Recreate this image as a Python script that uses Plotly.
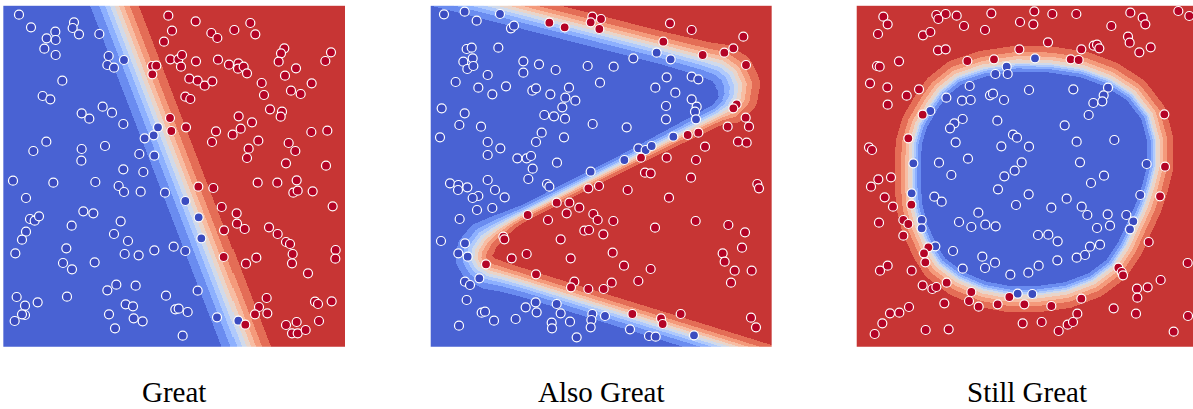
import numpy as np
import plotly.graph_objects as go

# ---------------------------------------------------------------- data
# Panel 1 ("Great"): linear boundary
p1_blue = [(47,996),(83,958),(212,973),(208,956),(227,937),(156,945),(130,925),(157,920),(123,894),(157,875),
           (288,938),(316,872),(312,845),(332,837),(177,798),(118,752),(141,742),(298,720),(326,702),(235,700),
           (258,684),(360,668),(129,615),(90,587),(235,593),(234,558),(305,602),(408,578),(453,573),(424,625),
           (451,634),(464,658),(362,860),(360,532),(420,524),(29,498),(150,492),(276,494),(346,482),(362,464),
           (412,465),(485,462),(546,437),(68,446),(240,406),(270,400),(80,383),(94,378),(107,391),(68,345),
           (56,321),(205,363),(352,376),(332,338),(374,317),(36,280),(189,295),(179,251),(206,232),(274,253),
           (364,278),(406,274),(453,289),(511,300),(546,287),(586,388),(594,325),(40,149),(103,133),(65,123),
           (65,95),(56,97),(34,77),(191,150),(312,169),(339,186),(397,183),(367,127),(389,121),(317,97),
           (391,85),(418,76),(335,55),(488,153),(516,112),(526,114),(553,104),(538,33),(583,168),(641,88),(705,78)]
p1_red = [(495,993),(577,976),(506,948),(624,941),(642,926),(693,950),(741,971),(756,937),(482,915),(446,842),
          (459,843),(447,817),(501,862),(525,862),(536,875),(533,840),(578,856),(644,861),(677,846),(705,850),
          (704,834),(721,840),(731,820),(558,804),(583,798),(604,783),(627,796),(546,750),(561,743),(775,791),
          (782,755),(843,895),(833,880),(826,855),(878,835),(845,813),(863,768),(892,758),(925,790),(983,883),
          (966,857),(500,686),(504,647),(548,658),(706,691),(746,673),(712,654),(688,636),(638,646),(626,614),
          (800,712),(836,705),(832,690),(765,618),(736,594),(731,566),(856,611),(876,587),(848,550),(924,644),
          (972,648),(968,543),(585,480),(630,476),(763,492),(822,492),(880,499),(870,462),(883,468),(928,466),
          (988,421),(655,419),(700,400),(701,369),(724,353),(662,349),(797,358),(823,338),(848,314),(860,308),
          (868,278),(866,250),(997,290),(996,264),(661,269),(728,249),(759,267),(914,220),(790,146),(767,119),
          (792,100),(755,97),(726,66),(935,135),(944,128),(985,136),(848,65),(880,74),(866,40),(883,40),
          (907,50),(947,77)]
p1_boundary = [(265,1200),(805,-200)]
p1_width = [31, 31]

# Panel 2 ("Also Great"): zig-zag boundary
p2_blue = [(40,997),(102,1005),(138,978),(208,998),(241,955),(250,963),(108,893),(123,897),(98,855),(126,865),
           (110,833),(128,842),(203,897),(171,815),(75,794),(143,777),(185,757),(226,781),(278,856),(278,822),
           (325,847),(375,830),(471,842),(549,840),(608,865),(678,882),(720,862),(508,792),(305,768),(316,775),
           (359,757),(415,777),(404,747),(434,738),(395,718),(341,695),(370,691),(403,684),(33,715),(102,700),
           (86,665),(151,660),(28,628),(171,614),(209,595),(171,575),(260,565),(288,565),(301,572),(333,642),
           (316,614),(400,628),(379,552),(306,534),(293,503),(486,668),(588,658),(623,595),(645,590),(663,602),
           (581,560),(480,525),(674,777),(708,808),(783,810),(803,802),(734,762),(783,742),(798,720),(706,722),
           (793,705),(796,682),(706,682),(728,630),(58,490),(83,485),(82,470),(110,478),(171,500),(193,470),
           (222,448),(143,452),(126,446),(139,410),(185,416),(87,383),(349,488),(356,480),(31,317),(103,310),
           (83,280),(111,270),(103,195),(118,185),(146,205),(108,140),(153,102),(163,105),(190,78),(85,63),
           (255,83),(285,118),(315,133),(318,103),(378,128),(390,100),(418,75),(363,72),(364,55),(438,28),
           (485,98),(482,80),(480,58),(523,92),(598,52),(655,32),(675,30),(790,34)]
p2_red = [(356,972),(402,958),(485,990),(480,973),(511,983),(506,953),(718,970),(783,950),(698,915),(816,875),
          (881,882),(908,895),(938,930),(946,845),(918,727),(908,715),(945,687),(955,660),(891,660),(803,642),
          (771,635),(823,600),(922,615),(948,612),(708,567),(631,567),(796,560),(643,522),(660,520),(781,507),
          (591,470),(715,447),(473,475),(505,482),(980,488),(985,475),(378,432),(416,432),(446,417),(408,400),
          (488,398),(501,380),(548,377),(291,395),(352,380),(461,348),(475,350),(518,337),(673,357),(795,377),
          (893,365),(943,343),(218,330),(221,322),(390,322),(934,297),(876,280),(882,255),(243,265),(288,278),
          (420,265),(546,282),(580,243),(660,233),(912,228),(963,228),(166,247),(316,217),(431,195),(421,178),
          (473,173),(519,173),(543,192),(623,197),(901,192),(605,98),(750,98),(691,85),(696,68),(961,87),(976,58)]
p2_boundary = [(-117,1102),(208,1020),(355,982),(698,895),(823,862),(873,848),(907,822),(923,785),(920,748),
               (898,716),(863,696),(583,554),(283,402),(243,382),(193,352),(158,326),(135,292),(131,263),
               (143,240),(173,220),(223,207),(298,185),(598,92),(913,-5),(1083,-58)]
p2_width = [22,22,22,22,24,27,29,30,28,23,15,11,11,13,18,23,25,25,24,22,20,19,19,19,19]

# Panel 3 ("Still Great"): closed boundary, class 0 inside
p3_blue = [(450,840),(535,865),(416,818),(453,818),(339,782),(269,747),(316,738),(342,740),(400,754),(409,759),
           (442,740),(517,770),(650,772),(754,777),(741,754),(710,731),(737,736),(696,695),(221,707),(293,670),
           (280,655),(318,683),(422,678),(624,664),(297,613),(434,601),(469,636),(481,627),(517,600),(660,615),
           (773,620),(170,550),(247,552),(334,564),(284,515),(443,511),(474,528),(495,553),(670,553),(742,513),
           (703,491),(870,548),(424,472),(516,457),(630,444),(165,460),(233,450),(255,435),(478,425),(584,417),
           (675,420),(692,395),(753,397),(809,395),(851,455),(830,376),(820,352),(365,402),(307,374),(344,359),
           (386,366),(417,361),(195,380),(195,355),(721,356),(760,363),(544,335),(575,336),(603,316),(730,306),
           (700,300),(685,275),(660,267),(602,259),(236,301),(289,287),(377,270),(415,252),(385,236),(318,234),
           (461,216),(515,222),(546,243),(483,159),(527,158)]
p3_red = [(80,990),(93,967),(64,938),(239,995),(267,998),(245,983),(300,993),(322,962),(385,950),(404,1000),
          (490,974),(533,1006),(530,967),(587,998),(659,998),(199,934),(221,944),(244,889),(267,892),(127,856),
          (61,842),(69,840),(488,892),(574,913),(642,862),(666,860),(674,892),(711,903),(721,906),(728,895),
          (764,962),(821,1002),(858,987),(866,967),(814,930),(819,912),(848,883),(882,898),(965,1007),(998,992),
          (40,790),(92,778),(150,753),(187,772),(93,726),(332,857),(412,862),(198,696),(155,625),(37,598),
          (46,590),(65,502),(103,508),(43,480),(84,448),(109,420),(164,426),(140,380),(155,368),(67,372),
          (140,333),(215,298),(202,280),(206,253),(93,243),(70,228),(165,228),(198,184),(227,173),(239,179),
          (270,192),(344,164),(337,137),(366,120),(423,127),(458,149),(503,127),(584,122),(674,144),(771,115),
          (838,99),(841,174),(842,147),(873,178),(912,200),(923,697),(925,540),(910,451),(876,314),(993,251),
          (785,237),(795,224),(799,214),(100,100),(128,102),(157,119),(77,70),(54,38),(207,50),(276,52),
          (263,130),(498,70),(555,74),(606,47),(633,66),(649,74),(662,99),(951,45),(994,92)]
p3_boundary = [(480,852),(580,850),(680,835),(760,805),(830,760),(880,695),(900,620),(900,540),(885,480),
               (865,420),(842,370),(810,300),(770,240),(710,195),(630,165),(540,153),(460,153),(380,168),
               (305,200),(245,245),(215,292),(185,360),(170,420),(165,480),(165,540),(168,610),(185,668),
               (220,728),(250,770),(300,810),(380,837)]
p3_width = 17

titles = ["Great", "Also Great", "Still Great"]

# ---------------------------------------------------------------- colours
# coolwarm anchor colours (diverging blue - red)
COOLWARM = [(59,76,192),(68,90,204),(77,104,215),(87,117,225),(98,130,234),(108,142,241),(119,154,247),
            (130,165,251),(141,176,254),(152,185,255),(163,194,255),(174,201,253),(184,208,249),(194,213,244),
            (204,217,238),(213,219,230),(221,221,221),(229,216,209),(236,211,198),(241,204,185),(245,196,173),
            (247,187,160),(247,177,148),(247,166,135),(244,154,123),(241,141,111),(236,127,99),(229,112,88),
            (222,96,77),(213,80,66),(203,62,56),(192,40,47),(180,4,38)]


def coolwarm(v):
    arr = np.array(COOLWARM, dtype=float)
    pos = np.linspace(0, 1, len(arr))
    rgb = [int(round(np.interp(v, pos, arr[:, i]))) for i in range(3)]
    return "rgb(%d,%d,%d)" % tuple(rgb)


N_LEVELS = 10
band_colors = [coolwarm((k + 0.5) / N_LEVELS) for k in range(N_LEVELS)]
band_scale = []
for k, c in enumerate(band_colors):
    band_scale.append([k / N_LEVELS, c])
    band_scale.append([(k + 1) / N_LEVELS, c])

BLUE_PT = coolwarm(0.0)
RED_PT = coolwarm(1.0)


# ---------------------------------------------------------------- decision fields
def polyline_distance(X, Y, verts, widths):
    vx = np.array([v[0] for v in verts], float)
    vy = np.array([v[1] for v in verts], float)
    w = np.array(widths, float)
    dmin = np.full(X.shape, np.inf)
    wmin = np.ones(X.shape)
    for i in range(len(vx) - 1):
        ax, ay, dx, dy = vx[i], vy[i], vx[i + 1] - vx[i], vy[i + 1] - vy[i]
        t = np.clip(((X - ax) * dx + (Y - ay) * dy) / (dx * dx + dy * dy), 0, 1)
        d = np.hypot(X - ax - t * dx, Y - ay - t * dy)
        ww = w[i] + t * (w[i + 1] - w[i])
        m = d < dmin
        dmin = np.where(m, d, dmin)
        wmin = np.where(m, ww, wmin)
    return dmin, wmin


def inside_polygon(X, Y, verts):
    inside = np.zeros(X.shape, bool)
    n = len(verts)
    for i in range(n):
        xi, yi = verts[i]
        xj, yj = verts[(i + 1) % n]
        cond = ((yi > Y) != (yj > Y)) & (X < (xj - xi) * (Y - yi) / (yj - yi + 1e-12) + xi)
        inside ^= cond
    return inside


def to_bands(signed_logit):
    prob = 1.0 / (1.0 + np.exp(-signed_logit))
    return np.clip(np.floor(prob * N_LEVELS), 0, N_LEVELS - 1).astype(int)


def curve_field(xs, ys, verts, widths, blue_k=1.0, red_k=1.0):
    X, Y = np.meshgrid(xs, ys)
    d, w = polyline_distance(X, Y, verts, widths)
    order = sorted(verts, key=lambda v: v[1])
    gx = np.interp(Y, [v[1] for v in order], [v[0] for v in order])
    red = X > gx
    logit = np.where(red, d / (w * red_k), -d / (w * blue_k))
    return to_bands(logit)


def ring_field(xs, ys, verts, width, blue_k=1.0, red_k=1.0):
    X, Y = np.meshgrid(xs, ys)
    closed = list(verts) + [verts[0]]
    d, w = polyline_distance(X, Y, closed, [width] * len(closed))
    blue = inside_polygon(X, Y, verts)
    logit = np.where(blue, -d / (w * blue_k), d / (w * red_k))
    return to_bands(logit)


gy = np.linspace(0, 1023, 342)
g1 = np.linspace(0, 1025, 342)
g2 = np.linspace(0, 1023, 342)
z1 = curve_field(g1, gy, p1_boundary, p1_width)
z2 = curve_field(g2, gy, p2_boundary, p2_width)
z3 = ring_field(g2, gy, p3_boundary, p3_width, blue_k=0.75, red_k=1.35)

# ---------------------------------------------------------------- figure
W, H = 1193, 409
y_dom = [1 - 346.67 / H, 1 - 5.67 / H]
x_doms = [[3.33 / W, 345.0 / W], [430.67 / W, 771.67 / W], [856.67 / W, 1.0]]
x_ranges = [[0, 1025], [0, 1023], [0, 1009]]

fig = go.Figure()
panels = [(g1, z1, p1_blue, p1_red), (g2, z2, p2_blue, p2_red), (g2, z3, p3_blue, p3_red)]
for i, (gx, z, blues, reds) in enumerate(panels):
    xa = "x" if i == 0 else "x%d" % (i + 1)
    ya = "y" if i == 0 else "y%d" % (i + 1)
    fig.add_trace(go.Heatmap(x=gx, y=gy, z=z, zmin=-0.5, zmax=N_LEVELS - 0.5, colorscale=band_scale,
                             showscale=False, hoverinfo="skip", xaxis=xa, yaxis=ya))
    for pts, col in ((blues, BLUE_PT), (reds, RED_PT)):
        fig.add_trace(go.Scatter(x=[p[0] for p in pts], y=[p[1] for p in pts], mode="markers",
                                 marker=dict(size=9, color=col, line=dict(color="white", width=1.2)),
                                 hoverinfo="skip", xaxis=xa, yaxis=ya, showlegend=False))
    key = "" if i == 0 else str(i + 1)
    fig.layout["xaxis" + key] = dict(domain=x_doms[i], range=x_ranges[i], visible=False,
                                     fixedrange=True, anchor=ya)
    fig.layout["yaxis" + key] = dict(domain=y_dom, range=[0, 1023], visible=False,
                                     fixedrange=True, anchor=xa)

centers = [174.2, 601.2, 1027.0]
for c, t in zip(centers, titles):
    fig.add_annotation(text=t, x=c / W, y=1 - 392 / H, xref="paper", yref="paper",
                       xanchor="center", yanchor="middle", showarrow=False,
                       font=dict(family="Liberation Serif", size=29, color="black"))

fig.update_layout(width=W, height=H, margin=dict(l=0, r=0, t=0, b=0),
                  paper_bgcolor="white", plot_bgcolor="white", showlegend=False)

fig.write_html("out.html")
